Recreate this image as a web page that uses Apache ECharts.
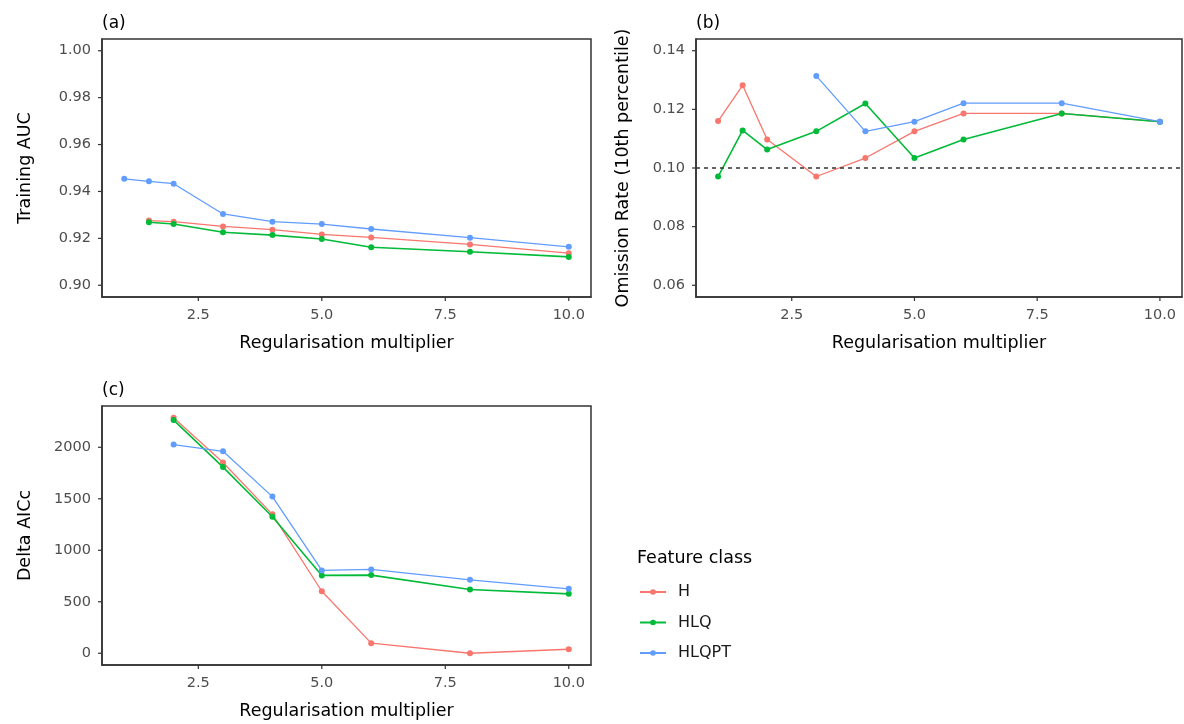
<!DOCTYPE html>
<html>
<head>
<meta charset="utf-8">
<title>Regularisation multiplier tuning</title>
<script src="https://cdn.jsdelivr.net/npm/echarts@6/dist/echarts.min.js"></script>
<style>
  html, body { margin: 0; padding: 0; background: #ffffff; }
  #chart { width: 1184px; height: 724px; }
</style>
</head>
<body>
<div id="chart"></div>
<script>
// Regularisation multipliers tested
const multipliers = [1, 1.5, 2, 3, 4, 5, 6, 8, 10];
const featureClasses = ['H', 'HLQ', 'HLQPT'];

// (a) Training AUC
const aucH     = [null, 0.9276, 0.9271, 0.9251, 0.9237, 0.9217, 0.9204, 0.9174, 0.9137];
const aucHLQ   = [null, 0.9269, 0.9261, 0.9226, 0.9214, 0.9197, 0.9162, 0.9143, 0.9121];
const aucHLQPT = [0.9454, 0.9443, 0.9433, 0.9304, 0.9271, 0.9261, 0.9240, 0.9203, 0.9164];

// (b) Omission rate at the 10th percentile training presence threshold
const orH     = [0.1160, 0.1282, 0.1097, 0.0971, 0.1034, 0.1125, 0.1186, 0.1186, 0.1158];
const orHLQ   = [0.0971, 0.1128, 0.1063, 0.1125, 0.1220, 0.1034, 0.1097, 0.1186, 0.1158];
const orHLQPT = [null, null, null, 0.1314, 0.1125, 0.1158, 0.1221, 0.1221, 0.1158];
const orReference = 0.10;

// (c) Delta AICc
const aiccH     = [null, null, 2287, 1853, 1349, 602, 98, 0, 39];
const aiccHLQ   = [null, null, 2264, 1808, 1326, 756, 759, 619, 577];
const aiccHLQPT = [null, null, 2026, 1961, 1521, 804, 814, 713, 626];

// Tick labels
const xTicks = [2.5, 5, 7.5, 10];
const aucTicks = [0.90, 0.92, 0.94, 0.96, 0.98, 1.00];
const orTicks = [0.06, 0.08, 0.10, 0.12, 0.14];
const aiccTicks = [0, 500, 1000, 1500, 2000];
const yTickSets = [aucTicks, orTicks, aiccTicks];

const colors = { H: '#F8766D', HLQ: '#00BA38', HLQPT: '#619CFF' };
const FONT = 'DejaVu Sans';
const TICK_LEN = 4;
const AXIS_COLOR = '#333333';

function pairs(values) {
  return multipliers.map((x, i) => [x, values[i]]).filter(p => p[1] !== null);
}

function xAxis(gridIndex) {
  return {
    type: 'value', gridIndex: gridIndex, min: 0.55, max: 10.45, position: 'bottom',
    name: 'Regularisation multiplier', nameLocation: 'middle', nameGap: 37,
    nameTextStyle: { fontFamily: FONT, fontSize: 17.5, color: '#000000' },
    axisLine: { show: true, onZero: false, lineStyle: { color: AXIS_COLOR, width: 1.5 } },
    axisTick: { show: false },
    axisLabel: { show: true, margin: 11, customValues: xTicks,
                 formatter: v => v.toFixed(1),
                 fontFamily: FONT, fontSize: 14.5, color: '#4D4D4D' },
    splitLine: { show: false }
  };
}

function yAxis(gridIndex, name, min, max, ticks, digits, gap) {
  return {
    type: 'value', gridIndex: gridIndex, min: min, max: max, position: 'left',
    name: name, nameLocation: 'middle', nameGap: gap, nameRotate: 90,
    nameTextStyle: { fontFamily: FONT, fontSize: 17.5, color: '#000000' },
    axisLine: { show: true, onZero: false, lineStyle: { color: AXIS_COLOR, width: 1.5 } },
    axisTick: { show: false },
    axisLabel: { show: true, margin: 11, customValues: ticks,
                 formatter: v => v.toFixed(digits),
                 fontFamily: FONT, fontSize: 14.5, color: '#4D4D4D' },
    splitLine: { show: false }
  };
}

function lineSeries(name, values, axisIndex, extra) {
  const s = {
    name: name, type: 'line', xAxisIndex: axisIndex, yAxisIndex: axisIndex,
    data: pairs(values),
    symbol: 'circle', symbolSize: 6, showSymbol: true,
    color: colors[name],
    lineStyle: { width: name === 'HLQ' ? 1.6 : 1.3, color: colors[name] },
    itemStyle: { color: colors[name] },
    z: 2 + featureClasses.indexOf(name),
    emphasis: { disabled: true }
  };
  return Object.assign(s, extra || {});
}

const gridBase = { show: true, borderColor: AXIS_COLOR, borderWidth: 1.5, containLabel: false };
const grids = [
  Object.assign({ left: 102, top: 39, width: 489, height: 258 }, gridBase),
  Object.assign({ left: 696, top: 39, width: 486, height: 258 }, gridBase),
  Object.assign({ left: 102, top: 406, width: 489, height: 259 }, gridBase)
];

const panelTitle = (text, left, top) => ({
  text: text, left: left, top: top, padding: 0,
  textStyle: { fontFamily: FONT, fontSize: 17, fontWeight: 'normal', color: '#000' }
});

const option = {
  animation: false,
  backgroundColor: '#ffffff',
  title: [
    panelTitle('(a)', 102, 15),
    panelTitle('(b)', 696, 15),
    panelTitle('(c)', 102, 382),
    { text: 'Feature class', left: 637, top: 549, padding: 0,
      textStyle: { fontFamily: FONT, fontSize: 17.5, fontWeight: 'normal', color: '#000' } }
  ],
  legend: {
    data: featureClasses, orient: 'vertical', left: 639, top: 584, padding: 0,
    itemWidth: 26, itemHeight: 7, itemGap: 14.5,
    textStyle: { fontFamily: FONT, fontSize: 16, color: '#1A1A1A', padding: [0, 0, 0, 7] },
    selectedMode: false
  },
  grid: grids,
  xAxis: [xAxis(0), xAxis(1), xAxis(2)],
  yAxis: [
    yAxis(0, 'Training AUC', 0.895, 1.005, aucTicks, 2, 68),
    yAxis(1, 'Omission Rate (10th percentile)', 0.056, 0.144, orTicks, 2, 64),
    yAxis(2, 'Delta AICc', -114, 2401, aiccTicks, 0, 68)
  ],
  series: [
    lineSeries('H', aucH, 0),
    lineSeries('HLQ', aucHLQ, 0),
    lineSeries('HLQPT', aucHLQPT, 0),
    lineSeries('H', orH, 1, {
      markLine: {
        silent: true, symbol: ['none', 'none'], label: { show: false },
        lineStyle: { type: [4, 4], color: AXIS_COLOR, width: 1.5 },
        data: [{ yAxis: orReference }]
      }
    }),
    lineSeries('HLQ', orHLQ, 1),
    lineSeries('HLQPT', orHLQPT, 1),
    lineSeries('H', aiccH, 2),
    lineSeries('HLQ', aiccHLQ, 2),
    lineSeries('HLQPT', aiccHLQPT, 2)
  ]
};

const chart = echarts.init(document.getElementById('chart'), null, { renderer: 'canvas' });
chart.setOption(option);

// Outward tick marks on every panel, placed through each axis' own scale
const tickMarks = [];
grids.forEach((g, i) => {
  const bottom = g.top + g.height;
  xTicks.forEach(v => {
    const px = chart.convertToPixel({ xAxisIndex: i }, v);
    tickMarks.push({ type: 'line', silent: true, z: 10,
      shape: { x1: px, y1: bottom, x2: px, y2: bottom + TICK_LEN },
      style: { stroke: AXIS_COLOR, lineWidth: 1.2 } });
  });
  yTickSets[i].forEach(v => {
    const py = chart.convertToPixel({ yAxisIndex: i }, v);
    tickMarks.push({ type: 'line', silent: true, z: 10,
      shape: { x1: g.left - TICK_LEN, y1: py, x2: g.left, y2: py },
      style: { stroke: AXIS_COLOR, lineWidth: 1.2 } });
  });
});
chart.setOption({ graphic: tickMarks });
</script>
</body>
</html>
